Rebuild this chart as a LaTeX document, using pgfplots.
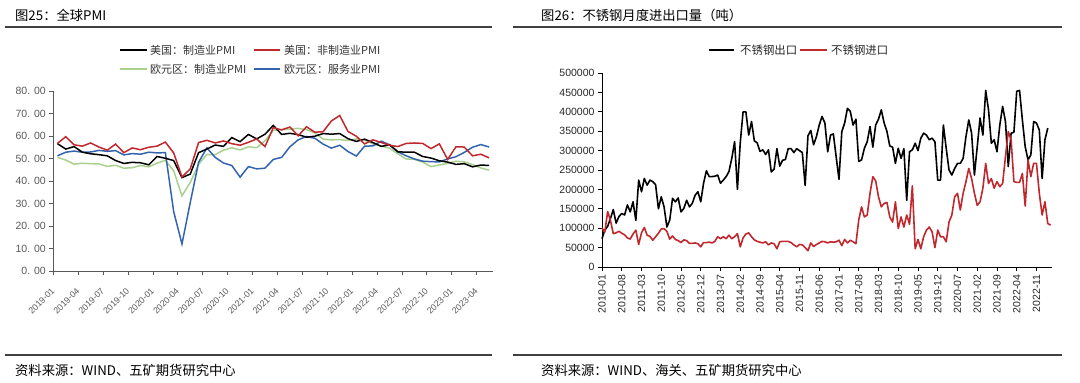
\documentclass[border=0pt]{standalone}
\usepackage{pgfplots}
\pgfplotsset{compat=1.18}
\usepackage{pgfplotstable}
\usepackage{fontspec}
\setmainfont{Liberation Sans}
\newfontfamily\cjk{Noto Sans CJK SC}
\definecolor{axgray}{HTML}{595959}
\definecolor{labgray}{HTML}{595959}
\definecolor{rulegray}{HTML}{404040}
\definecolor{pred}{HTML}{C0282D}
\definecolor{pgreen}{HTML}{A9D18E}
\definecolor{pblue}{HTML}{3464B0}

\pgfplotstableread{
i us usnm ezm ezs
0 56.6 56.7 50.5 51.2
1 54.2 59.7 49.3 52.8
2 55.3 56.1 47.5 53.3
3 52.8 55.5 47.9 52.8
4 52.1 56.9 47.7 52.9
5 51.7 55.1 47.6 53.6
6 51.2 53.7 46.5 53.2
7 49.1 56.4 47.0 53.5
8 47.8 52.6 45.7 51.6
9 48.3 54.7 45.9 52.2
10 48.1 53.9 46.9 51.9
11 47.2 55.0 46.3 52.8
12 50.9 55.5 47.9 52.5
13 50.1 57.3 49.2 52.6
14 49.1 52.5 44.5 26.4
15 41.5 41.8 33.4 12.0
16 43.1 45.4 39.4 30.5
17 52.6 57.1 47.4 48.3
18 54.2 58.1 51.8 54.7
19 56.0 56.9 51.7 50.5
20 55.4 57.8 53.7 48.0
21 59.3 56.6 54.8 46.9
22 57.5 55.9 53.8 41.7
23 60.7 57.2 55.2 46.4
24 58.7 58.7 54.8 45.4
25 60.8 55.3 57.9 45.7
26 64.7 63.7 62.5 49.6
27 60.7 62.7 62.9 50.5
28 61.2 64.0 63.1 55.2
29 60.6 60.1 63.4 58.3
30 59.5 64.1 62.8 59.8
31 59.9 61.7 61.4 59.0
32 61.1 61.9 58.6 56.4
33 60.8 66.7 58.3 54.6
34 61.1 69.1 58.4 55.9
35 58.8 62.0 58.0 53.1
36 57.6 59.9 58.7 51.1
37 58.6 56.5 58.2 55.5
38 57.1 58.3 56.5 55.6
39 55.4 57.1 55.5 57.7
40 56.1 55.9 54.6 56.1
41 53.0 55.3 52.1 53.0
42 52.8 56.7 49.8 51.2
43 52.8 56.9 49.6 49.8
44 50.9 56.7 48.4 48.8
45 50.2 54.4 46.4 48.6
46 49.0 56.5 47.1 48.5
47 48.4 49.6 47.8 49.8
48 47.4 55.2 48.8 50.8
49 47.7 55.1 48.5 52.7
50 46.3 51.2 47.3 55.0
51 47.1 51.9 45.8 56.2
52 46.9 50.3 44.8 55.1
}\pmitable

\pgfplotstableread{
i exp imp
0 73000 100000
1 95000 90000
2 105000 143000
3 125000 120000
4 148000 86000
5 113000 88000
6 130000 92000
7 138000 87000
8 134000 83000
9 160000 75000
10 142000 72000
11 168000 85000
12 120000 95000
13 224000 58000
14 194000 88000
15 228000 102000
16 211000 82000
17 224000 79000
18 220000 69000
19 212000 78000
20 150000 87000
21 181000 98000
22 155000 99000
23 103000 92000
24 121000 72000
25 177000 80000
26 168000 71000
27 178000 68000
28 142000 63000
29 151000 70000
30 172000 68000
31 155000 61000
32 164000 61000
33 185000 62000
34 194000 60000
35 168000 52000
36 216000 63000
37 248000 63000
38 233000 64000
39 233000 62000
40 234000 66000
41 237000 78000
42 216000 73000
43 224000 78000
44 233000 73000
45 246000 82000
46 280000 73000
47 323000 78000
48 200000 86000
49 320000 52000
50 400000 75000
51 400000 85000
52 340000 88000
53 375000 78000
54 325000 70000
55 320000 66000
56 298000 64000
57 302000 62000
58 290000 65000
59 302000 57000
60 245000 62000
61 252000 60000
62 305000 47000
63 260000 65000
64 275000 66000
65 277000 66000
66 305000 66000
67 305000 63000
68 295000 57000
69 305000 52000
70 300000 58000
71 295000 57000
72 210000 50000
73 338000 42000
74 352000 62000
75 315000 53000
76 336000 58000
77 366000 62000
78 388000 66000
79 371000 65000
80 297000 62000
81 340000 65000
82 343000 64000
83 284000 65000
84 226000 69000
85 349000 55000
86 371000 71000
87 409000 62000
88 401000 69000
89 366000 65000
90 381000 60000
91 272000 121000
92 276000 155000
93 306000 129000
94 323000 134000
95 362000 190000
96 309000 233000
97 366000 222000
98 381000 181000
99 405000 155000
100 371000 164000
101 349000 166000
102 312000 129000
103 309000 116000
104 267000 168000
105 306000 99000
106 280000 129000
107 305000 103000
108 172000 134000
109 297000 110000
110 302000 209000
111 319000 47000
112 300000 71000
113 332000 47000
114 345000 78000
115 340000 95000
116 328000 103000
117 332000 91000
118 323000 50000
119 224000 95000
120 224000 78000
121 366000 78000
122 306000 65000
123 250000 116000
124 237000 134000
125 254000 181000
126 267000 190000
127 267000 147000
128 280000 190000
129 336000 220000
130 379000 254000
131 345000 228000
132 237000 190000
133 310000 159000
134 384000 168000
135 340000 203000
136 455000 267000
137 405000 215000
138 319000 228000
139 328000 203000
140 297000 220000
141 366000 207000
142 414000 215000
143 375000 284000
144 259000 349000
145 345000 328000
146 347000 220000
147 453000 218000
148 455000 218000
149 379000 241000
150 310000 157000
151 276000 276000
152 289000 233000
153 375000 267000
154 371000 267000
155 353000 190000
156 228000 134000
157 328000 168000
158 358000 112000
159 nan 108000
}\steeltable

\begin{document}
\begin{tikzpicture}
\path[use as bounding box] (0pt,0pt) rectangle (1080pt,-383pt);

% ---------- left: PMI ----------
\begin{axis}[
  at={(53.3pt,-271pt)}, anchor=south west,
  scale only axis, width=440pt, height=180pt,
  xmin=-0.5, xmax=52.5, ymin=0, ymax=80,
  axis x line=bottom, axis y line=left,
  axis line style={-, draw=axgray, line width=0.8pt},
  every outer x axis line/.append style={-},
  every outer y axis line/.append style={-},
  xtick={-0.5,2.5,...,50.5},
  xticklabels={2019-01,2019-04,2019-07,2019-10,2020-01,2020-04,2020-07,2020-10,2021-01,2021-04,2021-07,2021-10,2022-01,2022-04,2022-07,2022-10,2023-01,2023-04},
  ytick={0,10,...,80},
  yticklabels={0. 00,10. 00,20. 00,30. 00,40. 00,50. 00,60. 00,70. 00,80. 00},
  tick align=outside, major tick length=4pt,
  tick style={draw=axgray, line width=0.8pt},
  x tick label style={rotate=45, anchor=east, font=\fontsize{8.8}{9}\selectfont, text=labgray, xshift=-7pt, yshift=-10pt},
  y tick label style={font=\fontsize{10.5}{10.5}\selectfont, text=labgray},
  clip=false,
]
\addplot[pgreen, line width=1.5pt] table[x=i,y=ezm]{\pmitable};
\addplot[pblue, line width=1.5pt] table[x=i,y=ezs]{\pmitable};
\addplot[black, line width=1.5pt] table[x=i,y=us]{\pmitable};
\addplot[pred, line width=1.5pt] table[x=i,y=usnm]{\pmitable};
\end{axis}

% ---------- right: stainless steel ----------
\begin{axis}[
  at={(602pt,-267pt)}, anchor=south west,
  scale only axis, width=450pt, height=194pt,
  xmin=0, xmax=159.5, ymin=0, ymax=500000,
  axis x line=bottom, axis y line=left,
  axis line style={-, draw=black, line width=0.8pt},
  every outer x axis line/.append style={-},
  every outer y axis line/.append style={-},
  xtick={0,7,...,154},
  xticklabels={2010-01,2010-08,2011-03,2011-10,2012-05,2012-12,2013-07,2014-02,2014-09,2015-04,2015-11,2016-06,2017-01,2017-08,2018-03,2018-10,2019-05,2019-12,2020-07,2021-02,2021-09,2022-04,2022-11},
  ytick={0,50000,...,500000},
  yticklabels={0,50000,100000,150000,200000,250000,300000,350000,400000,450000,500000},
  scaled y ticks=false,
  tick align=outside, major tick length=4pt,
  tick style={draw=black, line width=0.8pt},
  x tick label style={rotate=90, anchor=east, font=\fontsize{10.5}{10.5}\selectfont, text=black!85},
  y tick label style={font=\fontsize{10.5}{10.5}\selectfont, text=black!85},
  clip=false,
]
\addplot[black, line width=1.6pt, line join=round] table[x=i,y=exp]{\steeltable};
\addplot[pred, line width=1.6pt, line join=round] table[x=i,y=imp]{\steeltable};
\end{axis}

% ---------- titles, rules, legends, sources ----------
\begin{scope}[x=1pt,y=-1pt]
\node[anchor=west, inner sep=0pt, font=\cjk\fontsize{13.3}{14}\selectfont, text=black] at (15,15) {图25：全球PMI};
\node[anchor=west, inner sep=0pt, font=\cjk\fontsize{13.3}{14}\selectfont, text=black] at (541,15) {图26：不锈钢月度进出口量（吨）};
\draw[rulegray, line width=1.2pt] (5,27) -- (492,27);
\draw[rulegray, line width=1.2pt] (513,27) -- (1062,27);
\draw[rulegray, line width=1.2pt] (5,355) -- (492,355);
\draw[rulegray, line width=1.2pt] (513,355) -- (1062,355);
\node[anchor=west, inner sep=0pt, font=\cjk\fontsize{13.3}{14}\selectfont, text=black] at (15,370) {资料来源：WIND、五矿期货研究中心};
\node[anchor=west, inner sep=0pt, font=\cjk\fontsize{13.3}{14}\selectfont, text=black] at (541,370) {资料来源：WIND、海关、五矿期货研究中心};
% left legend
\draw[black, line width=1.5pt] (120,50) -- (147,50);
\node[anchor=west, inner sep=0pt, font=\cjk\fontsize{11}{12}\selectfont, text=black!80] at (150,50) {美国：制造业PMI};
\draw[pred, line width=1.5pt] (254,50) -- (280,50);
\node[anchor=west, inner sep=0pt, font=\cjk\fontsize{11}{12}\selectfont, text=black!80] at (284,50) {美国：非制造业PMI};
\draw[pgreen, line width=1.5pt] (120,69) -- (147,69);
\node[anchor=west, inner sep=0pt, font=\cjk\fontsize{11}{12}\selectfont, text=black!80] at (150,69) {欧元区：制造业PMI};
\draw[pblue, line width=1.5pt] (254,69) -- (280,69);
\node[anchor=west, inner sep=0pt, font=\cjk\fontsize{11}{12}\selectfont, text=black!80] at (284,69) {欧元区：服务业PMI};
% right legend
\draw[black, line width=1.6pt] (709,50) -- (734,50);
\node[anchor=west, inner sep=0pt, font=\cjk\fontsize{11.4}{12}\selectfont, text=black!85] at (740,50) {不锈钢出口};
\draw[pred, line width=1.6pt] (800,50) -- (827,50);
\node[anchor=west, inner sep=0pt, font=\cjk\fontsize{11.4}{12}\selectfont, text=black!85] at (831,50) {不锈钢进口};
\end{scope}
\end{tikzpicture}
\end{document}
